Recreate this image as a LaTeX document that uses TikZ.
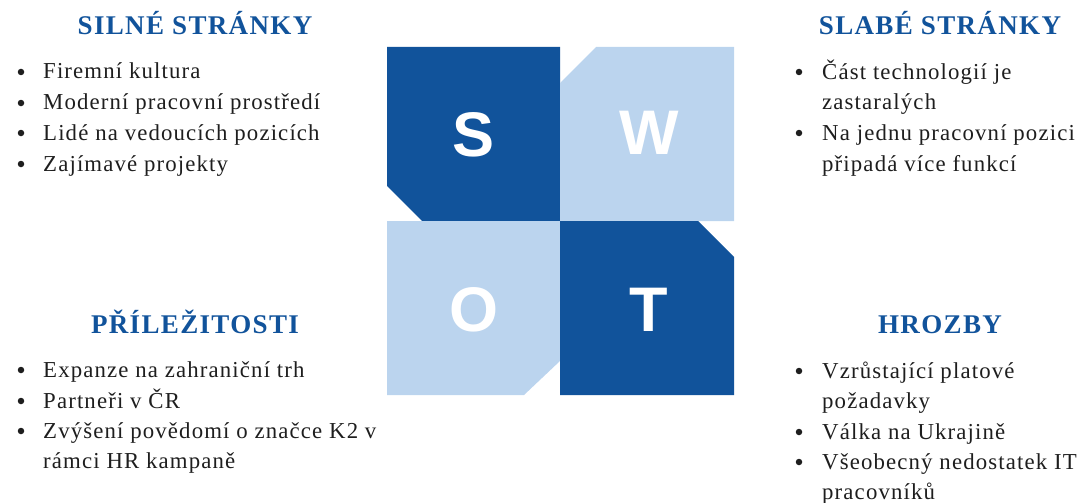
\documentclass[tikz,border=0pt]{standalone}
\usepackage{fontspec}
\setmainfont{Liberation Serif}
\newfontfamily\bodyfont{Liberation Serif}[LetterSpace=5]
\newfontfamily\headfont{Liberation Serif}[LetterSpace=5]
\newfontfamily\letterfont{Liberation Sans}
\definecolor{swotdark}{RGB}{17,83,155}
\definecolor{swotlight}{RGB}{187,212,238}
\definecolor{textgray}{RGB}{30,30,30}

\begin{document}
\begin{tikzpicture}[x=1pt,y=-1pt,
  head/.style={anchor=base,inner sep=0pt,text=swotdark,font=\headfont\bfseries\fontsize{27}{30}\selectfont},
  item/.style={anchor=base west,inner sep=0pt,align=left,text=textgray,font=\bodyfont\fontsize{22.8}{30.5}\selectfont},
  dot/.style={circle,fill=textgray,inner sep=0pt,minimum size=6.5pt},
  letter/.style={inner sep=0pt,text=white,font=\letterfont\bfseries\fontsize{63}{63}\selectfont}]
\useasboundingbox (0,0) rectangle (1082,503);

\fill[swotdark] (387,47) -- (560,47) -- (560,221) -- (422,221) -- (387,186) -- cycle;
\fill[swotlight] (596,47) -- (734,47) -- (734,221) -- (560,221) -- (560,83) -- cycle;
\fill[swotlight] (387,221) -- (560,221) -- (560,361) -- (524,395) -- (387,395) -- cycle;
\fill[swotdark] (560,221) -- (698,221) -- (734,257) -- (734,395) -- (560,395) -- cycle;
\node[letter] (s) at (474,135) {S};
\node[letter] (w) at (649,133) {W};
\node[letter] (o) at (474,310) {O};
\node[letter] (t) at (649,310) {T};

\node[head] (silne) at (195,35) {SILNÉ STRÁNKY};
\node[dot] (s1b) at (21,72) {};
\node[item] (s1) at (43,79) {Firemní kultura};
\node[dot] (s2b) at (21,103) {};
\node[item] (s2) at (43,110) {Moderní pracovní prostředí};
\node[dot] (s3b) at (21,133) {};
\node[item] (s3) at (43,140) {Lidé na vedoucích pozicích};
\node[dot] (s4b) at (21,164) {};
\node[item] (s4) at (43,171) {Zajímavé projekty};

\node[head] (slabe) at (940,35) {SLABÉ STRÁNKY};
\node[dot] (w1b) at (799,72) {};
\node[item] (w1) at (822,110) {Část technologií je\\zastaralých};
\node[dot] (w2b) at (799,133) {};
\node[item] (w2) at (822,171) {Na jednu pracovní pozici\\připadá více funkcí};

\node[head] (prilez) at (195,333) {PŘÍLEŽITOSTI};
\node[dot] (o1b) at (21,370) {};
\node[item] (o1) at (43,377) {Expanze na zahraniční trh};
\node[dot] (o2b) at (21,401) {};
\node[item] (o2) at (43,408) {Partneři v ČR};
\node[dot] (o3b) at (21,431) {};
\node[item] (o3) at (43,468.5) {Zvýšení povědomí o značce K2 v\\rámci HR kampaně};

\node[head] (hrozby) at (940,333) {HROZBY};
\node[dot] (t1b) at (799,371) {};
\node[item] (t1) at (822,408.5) {Vzrůstající platové\\požadavky};
\node[dot] (t2b) at (799,432) {};
\node[item] (t2) at (822,439) {Válka na Ukrajině};
\node[dot] (t3b) at (799,462) {};
\node[item] (t3) at (822,499.5) {Všeobecný nedostatek IT\\pracovníků};
\end{tikzpicture}
\end{document}
